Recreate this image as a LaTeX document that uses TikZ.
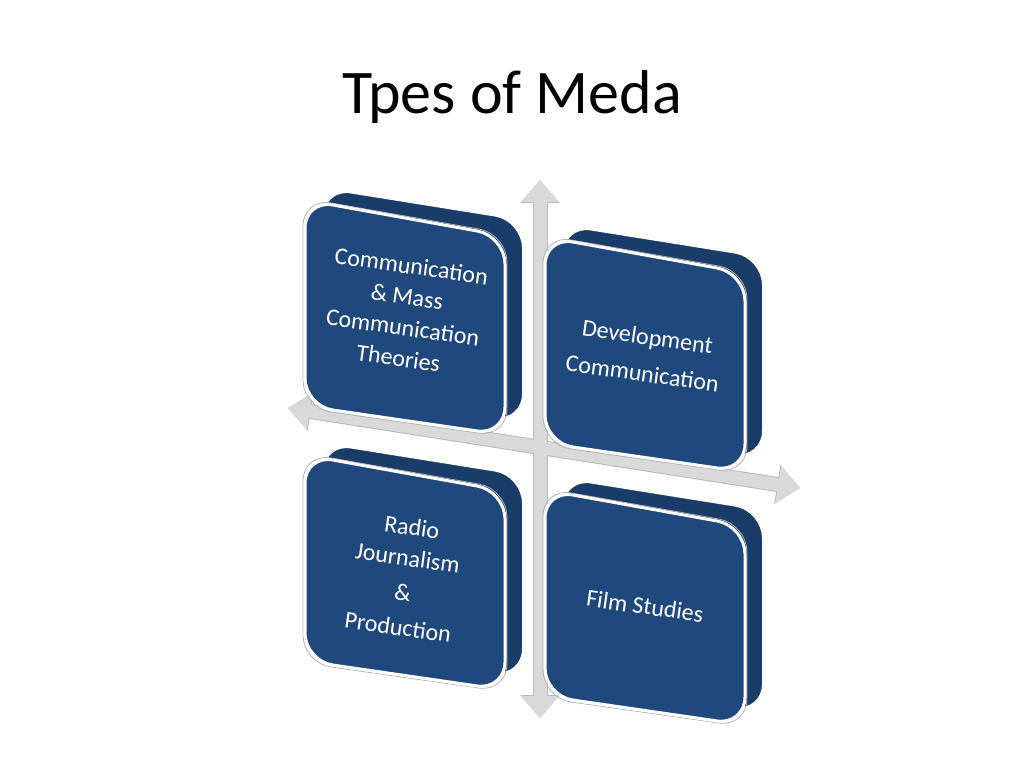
\documentclass[tikz,border=0pt]{standalone}
\usepackage{fontspec}
\setmainfont{Carlito}
\usetikzlibrary{arrows.meta}
\definecolor{boxblue}{RGB}{31,73,125}
\definecolor{backblue}{RGB}{25,60,105}
\tikzset{
 face/.style={fill=boxblue,draw=white,line width=3pt,rounded corners=28pt},
 backface/.style={fill=backblue,draw=white,line width=2pt,rounded corners=28pt},
 rim/.style={draw=gray!60,line width=0.8pt,rounded corners=28pt},
 lbl/.style={text=white,font=\fontsize{24}{31}\selectfont,align=center,rotate=-8},
 axis/.style={line width=13pt,draw=gray!30,{Triangle[length=22pt,width=36pt]}-{Triangle[length=22pt,width=36pt]}},
 axisrim/.style={line width=15pt,draw=gray!55,{Triangle[length=23pt,width=38pt]}-{Triangle[length=23pt,width=38pt]}}
}
\newcommand{\qbox}[5]{% x y name text
 \begin{scope}[shift={(#1,#2)}]
 \draw[backface] (18,-12)--(218,20)--(218,222)--(18,192)--cycle;
 \draw[rim] (-2,-2)--(202,34)--(202,237)--(-2,208)--cycle;
 \draw[face] (0,0)--(200,36)--(200,235)--(0,206)--cycle;
 \node[lbl] (#3) at (100,#5) {#4};
 \end{scope}}
\begin{document}
\begin{tikzpicture}[x=1pt,y=-1pt]
\useasboundingbox (0,0) rectangle (1024,768);
\node[font=\fontsize{62}{70}\selectfont] (title) at (512,97) {Tpes of Meda};
\coordinate (vt) at (540,180);
\coordinate (vb) at (540,718);
\coordinate (hl) at (288,408);
\coordinate (hr) at (800,488);
\draw[axisrim] (vb)--(vt);
\draw[axisrim] (hl)--(hr);
\draw[axis] (vb)--(vt);
\draw[axis] (hl)--(hr);
\qbox{305}{200}{a}{Communication\\\& Mass\\Communication\\Theories}{112}
\qbox{545}{237}{b}{Development\\[6pt]Communication}{118}
\qbox{305}{455}{c}{Radio\\Journalism\\[4pt]\&\\[4pt]Production}{122}
\qbox{545}{490}{d}{Film Studies}{116}
\end{tikzpicture}
\end{document}
